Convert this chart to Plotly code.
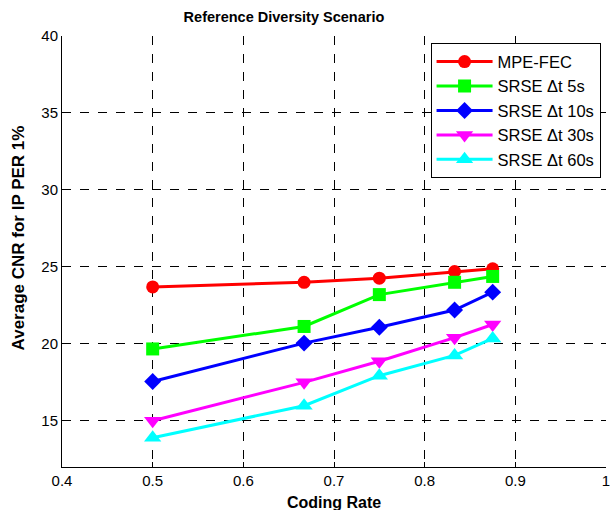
import plotly.graph_objects as go

coding_rate = [0.5, 0.667, 0.75, 0.833, 0.875]
mpe_fec = [23.7, 24.0, 24.27, 24.7, 24.88]
srse_5s = [19.67, 21.13, 23.2, 24.0, 24.38]
srse_10s = [17.55, 20.05, 21.08, 22.2, 23.36]
srse_30s = [15.0, 17.5, 18.87, 20.4, 21.26]
srse_60s = [13.9, 15.98, 17.93, 19.25, 20.35]

x_ticks = [0.4, 0.5, 0.6, 0.7, 0.8, 0.9, 1.0]
x_ticklabels = ["0.4", "0.5", "0.6", "0.7", "0.8", "0.9", "1"]
y_ticks = [15, 20, 25, 30, 35, 40]

names = ["MPE-FEC", "SRSE \u0394t 5s", "SRSE \u0394t 10s", "SRSE \u0394t 30s", "SRSE \u0394t 60s"]
colors = ["#ff0000", "#00ff00", "#0000ff", "#ff00ff", "#00ffff"]
symbols = ["circle", "square", "diamond", "triangle-down", "triangle-up"]
sizes = [13, 13, 13, 15, 15]
series = [mpe_fec, srse_5s, srse_10s, srse_30s, srse_60s]

FONT = "Arial, Liberation Sans, sans-serif"

fig = go.Figure()
for i, ys in enumerate(series):
    fig.add_trace(go.Scatter(
        x=coding_rate, y=ys, name=names[i], mode="lines+markers",
        line=dict(color=colors[i], width=3),
        marker=dict(symbol=symbols[i], size=sizes[i], color=colors[i]),
    ))

# invisible trace to carry mirrored ticks on top/right
fig.add_trace(go.Scatter(x=[0.4], y=[12], xaxis="x2", yaxis="y2",
                         mode="markers", marker=dict(opacity=0),
                         showlegend=False, hoverinfo="skip"))

fig.update_layout(
    width=612, height=510,
    margin=dict(l=62, r=6, t=36, b=43, autoexpand=False),
    paper_bgcolor="white", plot_bgcolor="white",
    font=dict(family=FONT, size=15, color="black"),
    title=dict(text="<b>Reference Diversity Scenario</b>", xref="container", x=0.464,
               xanchor="center", yref="container", y=0.966, yanchor="middle",
               font=dict(size=14.5, family=FONT)),
    xaxis=dict(range=[0.4, 1.0], tickvals=x_ticks, ticktext=x_ticklabels,
               showline=True, linecolor="black", automargin=False,
               linewidth=1, ticks="inside", ticklen=5, tickcolor="black",
               showgrid=True, gridcolor="black", gridwidth=1, griddash="dash",
               zeroline=False, tickfont=dict(size=15)),
    yaxis=dict(range=[12, 40], tickvals=y_ticks, showline=True, automargin=False,
               linecolor="black", linewidth=1, ticks="inside", ticklen=5, tickcolor="black",
               showgrid=True, gridcolor="black", gridwidth=1, griddash="dash",
               zeroline=False, tickfont=dict(size=15)),
    xaxis2=dict(range=[0.4, 1.0], tickvals=x_ticks, overlaying="x", side="top",
                ticks="inside", ticklen=5, tickcolor="black", showticklabels=False,
                showgrid=False, zeroline=False, showline=False, automargin=False),
    yaxis2=dict(range=[12, 40], tickvals=y_ticks, overlaying="y", side="right",
                ticks="inside", ticklen=5, tickcolor="black", showticklabels=False,
                showgrid=False, zeroline=False, showline=False, automargin=False),
    legend=dict(x=0.99, xanchor="right", y=0.983, yanchor="top",
                bgcolor="white", bordercolor="black", borderwidth=1,
                font=dict(size=16.5, family=FONT), itemwidth=56),
    showlegend=True,
    annotations=[
        dict(text="<b>Average CNR for IP PER 1%</b>", textangle=-90,
             xref="paper", yref="paper", x=-0.0795, y=0.532,
             xanchor="center", yanchor="middle", showarrow=False,
             font=dict(size=17, family=FONT)),
        dict(text="<b>Coding Rate</b>", xref="paper", yref="paper",
             x=0.5, y=-0.0835, xanchor="center", yanchor="middle",
             showarrow=False, font=dict(size=16, family=FONT)),
    ],
)

fig.write_html("out.html")
